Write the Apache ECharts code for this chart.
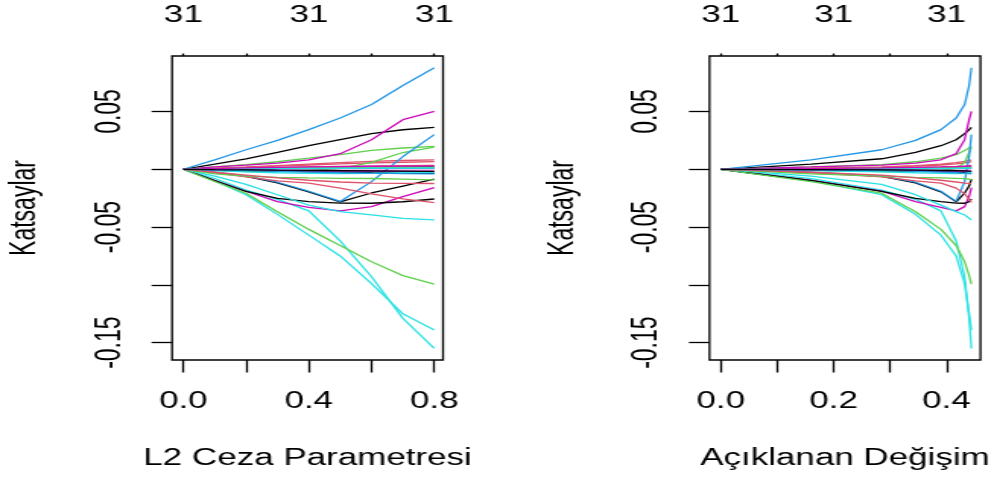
<!DOCTYPE html>
<html>
<head>
<meta charset="utf-8">
<script src="https://cdn.jsdelivr.net/npm/echarts@6/dist/echarts.min.js"></script>
<style>
  html, body { margin: 0; padding: 0; background: #fff; overflow: hidden; }
  #wrap { width: 997px; height: 482px; overflow: hidden; }
  /* the drawing is laid out narrow and widened horizontally */
  #chart { width: 656px; height: 482px; transform: scaleX(1.5198); transform-origin: 0 0; }
</style>
</head>
<body>
<div id="wrap"><div id="chart"></div></div>
<script>
// L2 norm of the ridge coefficient vector along the lambda path
const l2Norm = [0, 0.1, 0.2, 0.3, 0.4, 0.5, 0.6, 0.7, 0.8];
// fraction of deviance explained at the same lambda values
const devRatio = [0, 0.16, 0.285, 0.345, 0.39, 0.417, 0.432, 0.44, 0.444];

// number of non-zero coefficients shown on the top axes
const dfTicksLeft = [0, 0.4, 0.8];
const dfTicksRight = [0, 0.2, 0.4];
const dfLabels = ['31', '31', '31'];

// coefficient paths, one array per predictor (values at each l2Norm point)
const b1 = [0, 0.0045, 0.0091, 0.0146, 0.0204, 0.0256, 0.0308, 0.0342, 0.0363];
const r1 = [0, 0.001, 0.002, 0.0032, 0.0045, 0.0058, 0.0068, 0.0076, 0.0082];
const g1 = [0, 0.002, 0.004, 0.0065, 0.0097, 0.0126, 0.0163, 0.0184, 0.0198];
const u1 = [0, 0.0082, 0.0169, 0.025, 0.0343, 0.0444, 0.056, 0.0725, 0.0878];
const c1 = [0, -0.010, -0.022, -0.039, -0.057, -0.075, -0.099, -0.125, -0.139];
const m1 = [0, 0.002, 0.0036, 0.0053, 0.0082, 0.0135, 0.0256, 0.0429, 0.0501];
const b2 = [0, -0.0027, -0.0062, -0.0118, -0.0195, -0.0282, -0.0205, -0.0145, -0.0085];
const r2 = [0, 0.0008, 0.0017, 0.0027, 0.0037, 0.0047, 0.0055, 0.0061, 0.0066];
const g2 = [0, -0.001, -0.002, -0.002, -0.001, 0.0005, 0.006, 0.0145, 0.0192];
const u2 = [0, -0.0025, -0.0058, -0.0112, -0.019, -0.0278, -0.0107, 0.011, 0.030];
const c2 = [0, -0.008, -0.018, -0.026, -0.036, -0.062, -0.093, -0.129, -0.155];
const m2 = [0, -0.0097, -0.019, -0.028, -0.0329, -0.036, -0.0323, -0.0236, -0.0158];
const b3 = [0, -0.0097, -0.0192, -0.0252, -0.0279, -0.0292, -0.0294, -0.0281, -0.0257];
const r3 = [0, 0.0005, 0.001, 0.0015, 0.002, 0.0024, 0.0028, 0.0031, 0.0033];
const g3 = [0, -0.0106, -0.0207, -0.0367, -0.052, -0.066, -0.080, -0.092, -0.0994];
const u3 = [0, -0.0003, -0.0006, -0.0009, -0.0012, -0.0015, -0.0018, -0.002, -0.0022];
const c3 = [0, -0.006, -0.013, -0.022, -0.031, -0.0366, -0.0395, -0.0424, -0.0438];
const m3 = [0, 0.0002, 0.0003, 0.0004, 0.0005, 0.0005, 0.0006, 0.0006, 0.0006];
const b4 = [0, -0.0005, -0.001, -0.0015, -0.002, -0.0025, -0.003, -0.0033, -0.0035];
const r4 = [0, -0.003, -0.0065, -0.010, -0.012, -0.0163, -0.0213, -0.0256, -0.0288];
const g4 = [0, -0.004, -0.006, -0.007, -0.0075, -0.0078, -0.008, -0.0085, -0.0092];
const u4 = [0, 0.0002, 0.0004, 0.0005, 0.0006, 0.0007, 0.0008, 0.0009, 0.001];
const c4 = [0, -0.0012, -0.0022, -0.003, -0.0035, -0.0037, -0.0035, -0.003, -0.0025];
const m4 = [0, -0.0004, -0.0008, -0.0011, -0.0013, -0.0014, -0.0015, -0.0016, -0.0017];
const b5 = [0, 0.0003, 0.0006, 0.0009, 0.0012, 0.0014, 0.0016, 0.0018, 0.002];
const r5 = [0, -0.0025, -0.005, -0.0075, -0.0095, -0.011, -0.012, -0.0122, -0.0123];
const g5 = [0, 0.0005, 0.001, 0.0012, 0.0014, 0.0015, 0.0016, 0.0016, 0.0016];
const u5 = [0, -0.0006, -0.0012, -0.0018, -0.0024, -0.003, -0.0034, -0.0038, -0.004];
const c5 = [0, 0.0003, 0.0005, 0.0007, 0.0008, 0.0009, 0.001, 0.001, 0.0011];
const m5 = [0, 0.0006, 0.0012, 0.0016, 0.002, 0.0023, 0.0026, 0.0028, 0.003];
const b6 = [0, -0.0003, -0.0005, -0.0008, -0.001, -0.0012, -0.0014, -0.0016, -0.0018];

// predictors in column order; colours cycle through the six-colour palette
const paths = [b1, r1, g1, u1, c1, m1, b2, r2, g2, u2, c2, m2, b3, r3, g3, u3, c3, m3,
               b4, r4, g4, u4, c4, m4, b5, r5, g5, u5, c5, m5, b6];
const palette = ['#000000', '#DF536B', '#61D04F', '#2297E6', '#28E2E5', '#CD0BBC'];

const FONT = "'Liberation Sans', Arial, sans-serif";
const txt = { color: '#000', fontSize: 23, fontFamily: FONT };
const tickStyle = { color: '#000', width: 1.3 };

function bottomAxis(grid, min, max, ticks, labels, digits, name) {
  return {
    type: 'value', gridIndex: grid, position: 'bottom', min: min, max: max,
    axisLine: { show: false, onZero: false },
    splitLine: { show: false },
    axisTick: { show: true, customValues: ticks, length: 12.5, lineStyle: tickStyle },
    axisLabel: { show: true, customValues: labels, margin: 30.5, ...txt,
                 formatter: v => v.toFixed(digits) },
    name: name, nameLocation: 'middle', nameGap: 87.5, nameTextStyle: txt
  };
}
function topAxis(grid, min, max, ticks, labels) {
  return {
    type: 'value', gridIndex: grid, position: 'top', min: min, max: max,
    axisLine: { show: false, onZero: false },
    splitLine: { show: false },
    axisTick: { show: true, customValues: ticks, length: 2.5, lineStyle: tickStyle },
    axisLabel: { show: true, customValues: labels, margin: 28.5, ...txt,
                 formatter: v => dfLabels[labels.findIndex(t => Math.abs(t - v) < 1e-9)] }
  };
}
function leftAxis(grid) {
  return {
    type: 'value', gridIndex: grid, position: 'left', min: -0.165, max: 0.098,
    axisLine: { show: false, onZero: false },
    splitLine: { show: false },
    axisTick: { show: true, customValues: [-0.15, -0.1, -0.05, 0, 0.05], length: 13.5, lineStyle: tickStyle },
    axisLabel: { show: true, customValues: [-0.15, -0.05, 0.05], rotate: 90, margin: 29.5, ...txt,
                 formatter: v => v.toFixed(2) },
    name: 'Katsaylar', nameLocation: 'middle', nameGap: 85, nameTextStyle: txt
  };
}

const series = [];
paths.forEach((p, i) => {
  const common = {
    type: 'line', showSymbol: false, symbol: 'none', silent: true, smooth: false,
    lineStyle: { color: palette[i % 6], width: 1.3 }
  };
  series.push({ ...common, xAxisIndex: 0, yAxisIndex: 0, data: l2Norm.map((x, k) => [x, p[k]]) });
  series.push({ ...common, xAxisIndex: 2, yAxisIndex: 1, data: devRatio.map((x, k) => [x, p[k]]) });
});

const chart = echarts.init(document.getElementById('chart'), null, { renderer: 'canvas' });
chart.setOption({
  animation: false,
  backgroundColor: '#ffffff',
  grid: [
    { left: 113.2, top: 56, width: 178.3, height: 304, show: true, borderColor: '#000', borderWidth: 1.3, backgroundColor: 'transparent' },
    { left: 466.8, top: 56, width: 178.3, height: 304, show: true, borderColor: '#000', borderWidth: 1.3, backgroundColor: 'transparent' }
  ],
  xAxis: [
    bottomAxis(0, -0.036, 0.828, [0, 0.2, 0.4, 0.6, 0.8], [0, 0.4, 0.8], 1, 'L2 Ceza Parametresi'),
    topAxis(0, -0.036, 0.828, [0, 0.2, 0.4, 0.6, 0.8], dfTicksLeft),
    bottomAxis(1, -0.02, 0.46, [0, 0.1, 0.2, 0.3, 0.4], [0, 0.2, 0.4], 1, 'Açıklanan Değişim'),
    topAxis(1, -0.02, 0.46, [0, 0.1, 0.2, 0.3, 0.4], dfTicksRight)
  ],
  yAxis: [leftAxis(0), leftAxis(1)],
  series: series
});
</script>
</body>
</html>
